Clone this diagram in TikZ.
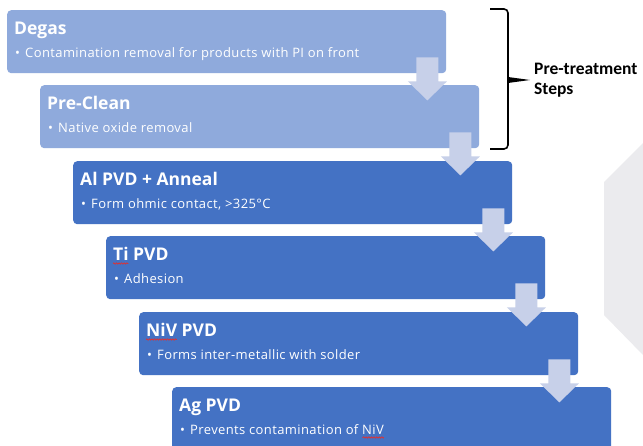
\documentclass[tikz,border=0pt]{standalone}
\usepackage{fontspec}
\setmainfont{Open Sans}
\newfontfamily\bodyfont{Open Sans}[LetterSpace=3]
\newfontfamily\bracefont{Carlito}
\usetikzlibrary{calc,decorations.pathmorphing}
\definecolor{lightblue}{HTML}{8FAADC}
\definecolor{darkblue}{HTML}{4472C4}
\definecolor{arrowfill}{HTML}{C7D0E9}
\definecolor{hexgray}{HTML}{EBEBEE}
\definecolor{spellred}{HTML}{E03030}
\newcommand\titlefont{\fontsize{17.5}{20}\selectfont\bfseries}
\newcommand\bulletfont{\bodyfont\fontsize{13}{15}\selectfont}
\newlength\wTi
\newlength\wNiVb
\newlength\wNiV
\begin{document}
\settowidth\wTi{\titlefont Ti}%
\settowidth\wNiVb{\titlefont NiV}%
\settowidth\wNiV{\bulletfont NiV}%
\begin{tikzpicture}[x=1pt,y=-1pt,
 stepbox/.style={rounded corners=4pt, minimum width=439pt, minimum height=63pt, anchor=north west, inner sep=0pt, draw=none},
 lightstep/.style={stepbox, fill=lightblue},
 darkstep/.style={stepbox, fill=darkblue},
 titletext/.style={anchor=base west, inner sep=0pt, text=white, font=\titlefont},
 bullettext/.style={anchor=base west, inner sep=0pt, text=white, font=\bulletfont},
 bracelabel/.style={anchor=base west, inner sep=0pt, text=black, font=\bracefont\fontsize{17.5}{20}\selectfont\bfseries},
 squiggle/.style={draw=spellred, line width=0.7pt, decorate, decoration={snake, amplitude=0.7pt, segment length=2.6pt}},
 pics/downarrow/.style={code={\fill[arrowfill] (-11,0) -- (11,0) -- (11,24) -- (19.5,24) -- (0,43) -- (-19.5,24) -- (-11,24) -- cycle;}}
]
\useasboundingbox (0,0) rectangle (643,446);
\clip (0,0) rectangle (643,446);
\fill[white] (0,0) rectangle (643,446);
\fill[hexgray] (604,182) -- (643,143) -- (643,355) -- (604,315) -- cycle;

\node[lightstep] (b1) at (7,10) {};
\node[lightstep] (b2) at (40,85) {};
\node[darkstep] (b3) at (73,161) {};
\node[darkstep] (b4) at (106,236) {};
\node[darkstep] (b5) at (139,312) {};
\node[darkstep] (b6) at (172,387) {};

\pic at ($(b1.south east)+(-19,-16)$) {downarrow};
\pic at ($(b2.south east)+(-19,-16)$) {downarrow};
\pic at ($(b3.south east)+(-19,-16)$) {downarrow};
\pic at ($(b4.south east)+(-19,-16)$) {downarrow};
\pic at ($(b5.south east)+(-19,-16)$) {downarrow};

\node[titletext] (t1) at ($(b1.north west)+(7,25)$) {Degas};
\node[bullettext] (s1) at ($(b1.north west)+(8,48)$) {\makebox[10pt][l]{•}Contamination removal for products with PI on front};
\node[titletext] (t2) at ($(b2.north west)+(7,25)$) {Pre-Clean};
\node[bullettext] (s2) at ($(b2.north west)+(8,48)$) {\makebox[10pt][l]{•}Native oxide removal};
\node[titletext] (t3) at ($(b3.north west)+(7,25)$) {Al PVD + Anneal};
\node[bullettext] (s3) at ($(b3.north west)+(8,48)$) {\makebox[10pt][l]{•}Form ohmic contact, >325°C};
\node[titletext] (t4) at ($(b4.north west)+(7,25)$) {Ti PVD};
\node[bullettext] (s4) at ($(b4.north west)+(8,48)$) {\makebox[10pt][l]{•}Adhesion};
\node[titletext] (t5) at ($(b5.north west)+(7,25)$) {NiV PVD};
\node[bullettext] (s5) at ($(b5.north west)+(8,48)$) {\makebox[10pt][l]{•}Forms inter-metallic with solder};
\node[titletext] (t6) at ($(b6.north west)+(7,25)$) {Ag PVD};
\node[bullettext] (s6) at ($(b6.north west)+(8,48)$) {\makebox[10pt][l]{•}Prevents contamination of NiV};

\path[squiggle] ($(t4.base west)+(0,2.5)$) coordinate (q4) -- ($(q4)+(\wTi,0pt)$);
\path[squiggle] ($(t5.base west)+(0,2.5)$) coordinate (q5) -- ($(q5)+(\wNiVb,0pt)$);
\path[squiggle] ($(s6.base east)+(0,2.5)$) coordinate (q6) -- ($(q6)+(-\wNiV,0pt)$);

\coordinate (bt) at (490,9);
\coordinate (bb) at (490,149);
\coordinate (btip) at (530,80);
\draw[line width=1.6pt] (bt) -- (504,9) to[out=0,in=90] (508,13) -- (508,145) to[out=-90,in=0] (504,149) -- (bb);
\fill (508,77) -- (btip) -- (508,83) -- cycle;
\node[bracelabel] (l1) at (534,75) {Pre-treatment};
\node[bracelabel] (l2) at (534,95) {Steps};
\end{tikzpicture}
\end{document}
